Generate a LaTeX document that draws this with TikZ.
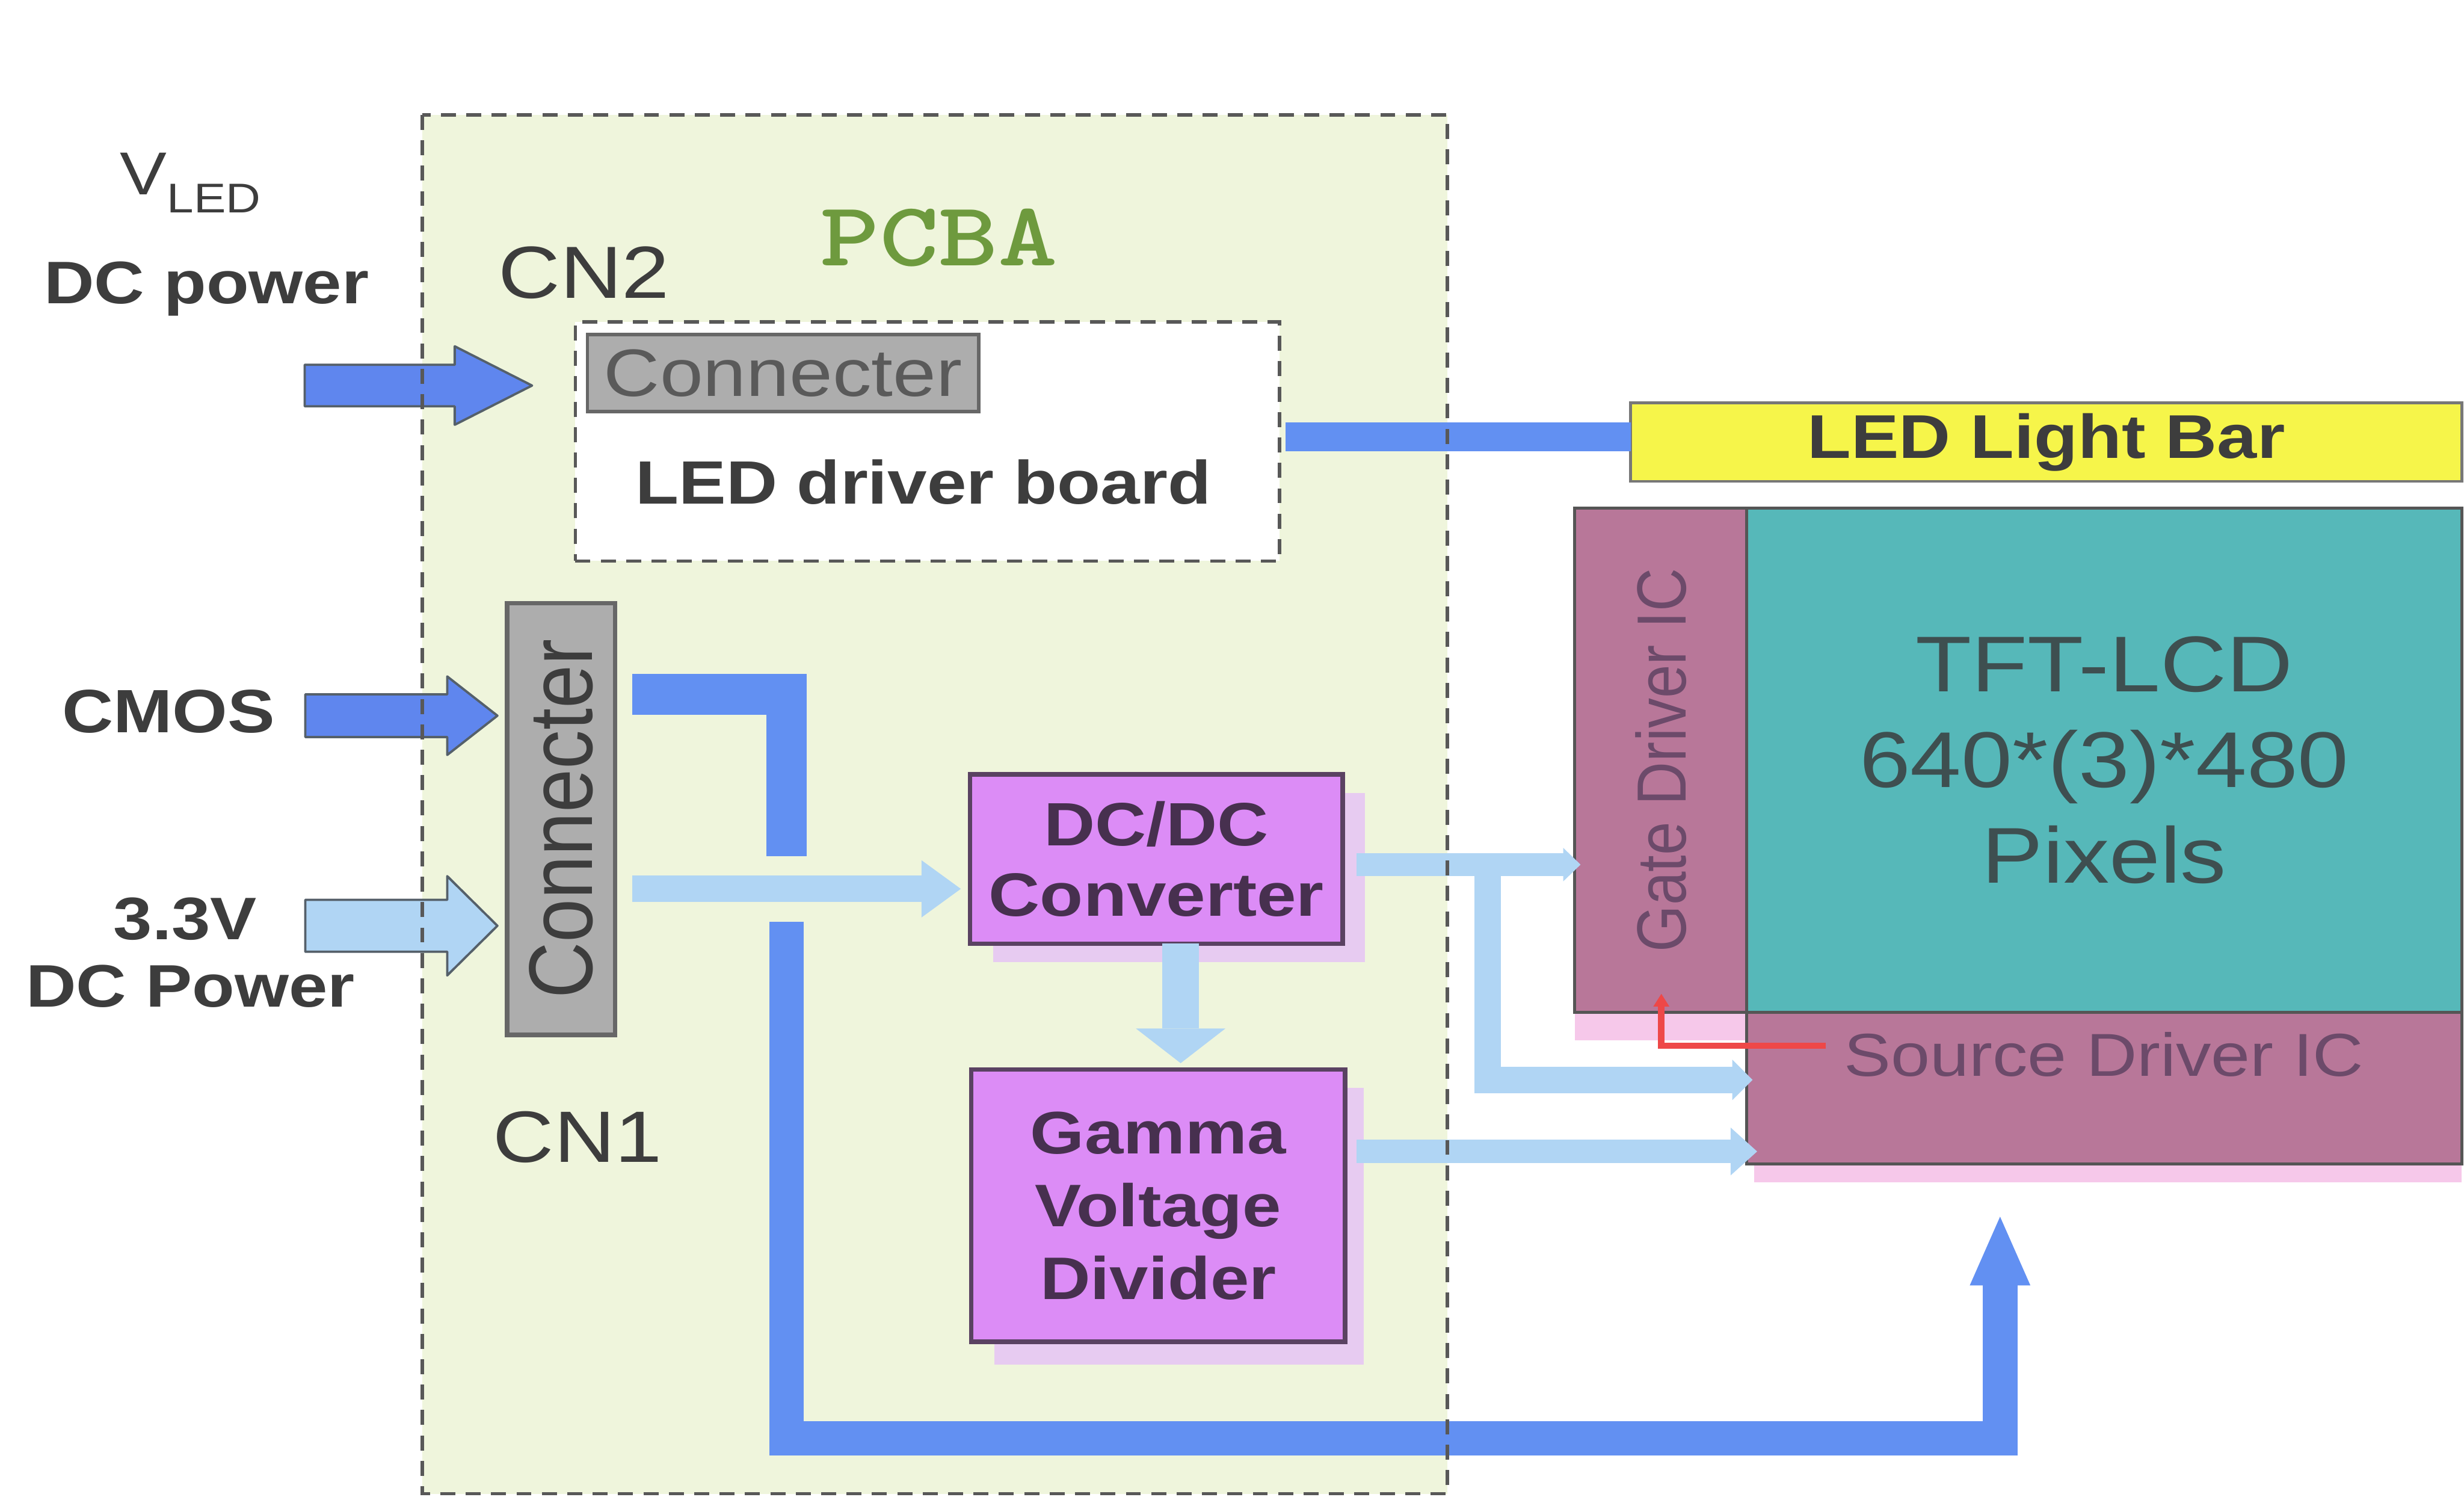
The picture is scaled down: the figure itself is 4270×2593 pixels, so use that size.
\documentclass[tikz,border=0pt]{standalone}
\usepackage{fontspec}
\setmainfont{Liberation Sans}
\usepackage{graphicx}
\usetikzlibrary{arrows.meta,calc}
\newcommand{\fs}[2]{\fontsize{#1}{#2}\selectfont}
\newcommand{\hs}[1]{\scalebox{1.16}[1]{#1}}
\newcommand{\vs}[1]{\scalebox{1}[1.16]{#1}}
\definecolor{pcbafill}{HTML}{EFF5DC}
\definecolor{dashgray}{HTML}{585858}
\definecolor{busblue}{HTML}{6290F2}
\definecolor{arrowblue}{HTML}{5F86EE}
\definecolor{feedblue}{HTML}{B0D5F4}
\definecolor{arrowline}{HTML}{55606A}
\definecolor{conngray}{HTML}{ADADAD}
\definecolor{connline}{HTML}{676767}
\definecolor{violetfill}{HTML}{DC8CF6}
\definecolor{violetline}{HTML}{5A4262}
\definecolor{violetshadow}{HTML}{E7CBF1}
\definecolor{violettext}{HTML}{47304F}
\definecolor{mauve}{HTML}{B87799}
\definecolor{mauvetext}{HTML}{6C4A6A}
\definecolor{tealfill}{HTML}{56B8B9}
\definecolor{tealtext}{HTML}{3E4F50}
\definecolor{yellowbar}{HTML}{F6F54A}
\definecolor{pinkshadow}{HTML}{F6C8EA}
\definecolor{redline}{HTML}{EE4848}
\definecolor{pcbagreen}{HTML}{6E9A3E}
\definecolor{textgray}{HTML}{3D3D3D}
\definecolor{boxline}{HTML}{555555}
\newcommand{\fatarrow}[7]{%
  \filldraw[fill=#1, draw=arrowline, line width=4pt, line join=round]
    (#2,#5-#6) -- (#3,#5-#6) -- (#3,#5-#7) -- (#4,#5) -- (#3,#5+#7)
    -- (#3,#5+#6) -- (#2,#5+#6) -- cycle;}
\tikzset{
  box/.style={anchor=north west, inner sep=0pt, outer sep=0pt, align=center},
  lbl/.style={inner sep=0pt, outer sep=0pt, anchor=base, text=textgray},
  dashedborder/.style={draw=dashgray, line width=6pt, dash pattern=on 26pt off 18pt},
  busline/.style={draw=busblue, line cap=butt, line join=miter},
  feedline/.style={draw=feedblue, line cap=butt, line join=miter},
  violetbox/.style={box, fill=violetfill, draw=violetline, line width=8pt, text=violettext},
  panelbox/.style={box, draw=boxline, line width=5pt},
}
\begin{document}
\begin{tikzpicture}[x=1pt, y=-1pt]
\useasboundingbox (0,0) rectangle (4270,2593);
\fill[white] (0,0) rectangle (4270,2593);

% PCBA area (fill; border drawn at the end)
\node[box, fill=pcbafill, minimum width=1776pt, minimum height=2389pt] (pcba) at (732,199) {};

% LED driver board
\node[box, fill=white, dashedborder, minimum width=1220pt, minimum height=414pt] (ledboard) at (997,558) {};
\node[box, fill=conngray, draw=connline, line width=6pt, minimum width=678pt, minimum height=133pt,
      text=textgray!85, font=\fs{116}{116}] (conn2) at (1018,580) {\raisebox{-10pt}{\hs{Connecter}}};
\node[lbl, font=\bfseries\fs{106}{106}] (ledtext) at (1600,873) {\hs{LED driver board}};

% CN1 connecter
\node[box, fill=conngray, draw=connline, line width=8pt, minimum width=187pt, minimum height=748pt,
      text=textgray, font=\fs{135}{135}] (conn1) at (879,1045) {\rotatebox{90}{\vs{Connecter}}};

% shadows
\fill[violetshadow] (1721,1374) rectangle (2365,1667);
\fill[violetshadow] (1723,1885) rectangle (2363,2364);
\fill[pinkshadow] (2729,1754) rectangle (3027,1802);
\fill[pinkshadow] (3040,2017) rectangle (4266,2048);

% PCBA blocks
\node[violetbox, minimum width=646pt, minimum height=293pt, font=\bfseries\fs{106}{122}] (dcdc) at (1681,1342)
  {\hs{DC/DC}\\\hs{Converter}};
\node[violetbox, minimum width=648pt, minimum height=472pt, font=\bfseries\fs{104}{126}] (gamma) at (1683,1853)
  {\hs{Gamma}\\\hs{Voltage}\\\hs{Divider}};

% panel
\node[panelbox, fill=mauve, minimum width=298pt, minimum height=874pt, text=mauvetext, font=\fs{104}{104}] (gate) at (2729,880)
  {\rotatebox{90}{\vs{Gate Driver IC}}};
\node[panelbox, fill=tealfill, minimum width=1239pt, minimum height=874pt, text=tealtext, font=\fs{137}{166}] (tft) at (3027,880)
  {\hs{TFT-LCD}\\\hs{640*(3)*480}\\\hs{Pixels}};
\node[panelbox, fill=mauve, minimum width=1239pt, minimum height=263pt] (source) at (3027,1754) {};
\node[lbl, text=mauvetext, font=\fs{105}{105}] (sourcetext) at (3646,1864) {\hs{Source Driver IC}};
\node[box, fill=yellowbar, draw=boxline!80, line width=5pt, minimum width=1440pt, minimum height=136pt,
      text=textgray, font=\bfseries\fs{107}{107}] (ledbar) at (2826,698) {\raisebox{-8pt}{\hs{LED Light Bar}}};

% input block arrows
\fatarrow{arrowblue}{528}{788}{922}{668}{36}{68}
\fatarrow{arrowblue}{529}{775}{862}{1240}{37}{68}
\fatarrow{feedblue}{529}{775}{862}{1604}{45}{86}

% connectors
\draw[busline, line width=50pt] ($(ledboard.east |- 0,757)+(11,0)$) -- (ledbar.west |- 0,757);
\draw[busline, line width=70pt] ($(conn1.east |- 0,1203)+(30,0)$) -- (1363,1203) -- (1363,1483);
\draw[busline, line width=60pt, -{Triangle[length=119pt, width=105pt, line width=0pt]}]
  (1363,1597) -- (1363,2492) -- (3466,2492) -- ($(source.south -| 3466,0)+(0,91)$);
\draw[feedline, line width=46pt, -{Triangle[length=68pt, width=99pt, line width=0pt]}]
  ($(conn1.east |- 0,1540)+(30,0)$) -- ($(dcdc.west |- 0,1540)+(-16,0)$);
\draw[feedline, line width=63pt, -{Triangle[length=60pt, width=155pt, line width=0pt]}]
  (dcdc.south -| 2046,0) -- ($(gamma.north -| 2046,0)+(0,-11)$);
\draw[feedline, line width=39pt, -{Triangle[length=30pt, width=58pt, line width=0pt]}]
  (2351,1498) -- ($(gate.west |- 0,1498)+(10,0)$);
\draw[feedline, line width=46pt, -{Triangle[length=35pt, width=70pt, line width=0pt]}]
  (2578,1498) -- (2578,1871) -- ($(source.west |- 0,1871)+(10,0)$);
\draw[feedline, line width=41pt, -{Triangle[length=46pt, width=83pt, line width=0pt]}]
  ($(gamma.east |- 0,1995)+(20,0)$) -- ($(source.west |- 0,1995)+(18,0)$);
\draw[draw=redline, line width=11pt, -{Triangle[length=22pt, width=28pt, line width=0pt]}]
  (3164,1812) -- (2879,1812) -- ($(gate.south -| 2879,0)+(0,-32)$);

% labels
\node[lbl, anchor=base west] (vled) at (208,337)
  {\hs{\fs{105}{105}V\raisebox{-31pt}{\fs{72}{72}LED}}};
\node[lbl, font=\bfseries\fs{104}{104}] (vledpower) at (358,526) {\hs{DC power}};
\node[lbl, font=\bfseries\fs{106}{106}] (cmos) at (292,1269) {\hs{CMOS}};
\node[lbl, font=\bfseries\fs{104}{104}] (v33) at (321,1628) {\hs{3.3V}};
\node[lbl, font=\bfseries\fs{104}{104}] (v33power) at (330,1745) {\hs{DC Power}};
\node[lbl, font=\fs{128}{128}] (cn2) at (1012,517) {\hs{CN2}};
\node[lbl, font=\fs{126}{126}] (cn1) at (1001,2014) {\hs{CN1}};
\node[lbl, text=pcbagreen, font=\ttfamily\bfseries\fs{158}{158}] (pcbatext) at (1627,460)
  {\scalebox{1.24}[1]{PCBA}};

% PCBA dashed border on top
\draw[dashedborder] (pcba.north west) rectangle (pcba.south east);
\end{tikzpicture}
\end{document}
